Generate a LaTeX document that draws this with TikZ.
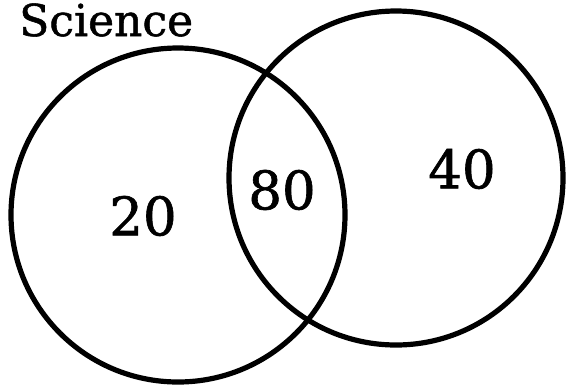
\documentclass[tikz,border=0pt]{standalone}
\usepackage{fontspec}
\setmainfont[FakeBold=1.2]{DejaVu Serif}
\begin{document}
\begin{tikzpicture}[x=1pt,y=-1pt,
  setcircle/.style={circle,draw=black,line width=5.2pt,minimum size=334pt,inner sep=0pt},
  numlabel/.style={font=\fontsize{53}{53}\selectfont,inner sep=0pt},
  titlelabel/.style={font=\fontsize{44}{44}\selectfont,inner sep=0pt,anchor=base west}]
\useasboundingbox (0,0) rectangle (567,389);
\node[setcircle] (left) at (178,215) {};
\node[setcircle] (right) at (396,178) {};
\node[titlelabel] (title) at (19,36) {Science};
\node[numlabel] (a) at (143,216) {20};
\node[numlabel] (b) at (282,190) {80};
\node[numlabel] (c) at (462,169) {40};
\end{tikzpicture}
\end{document}
